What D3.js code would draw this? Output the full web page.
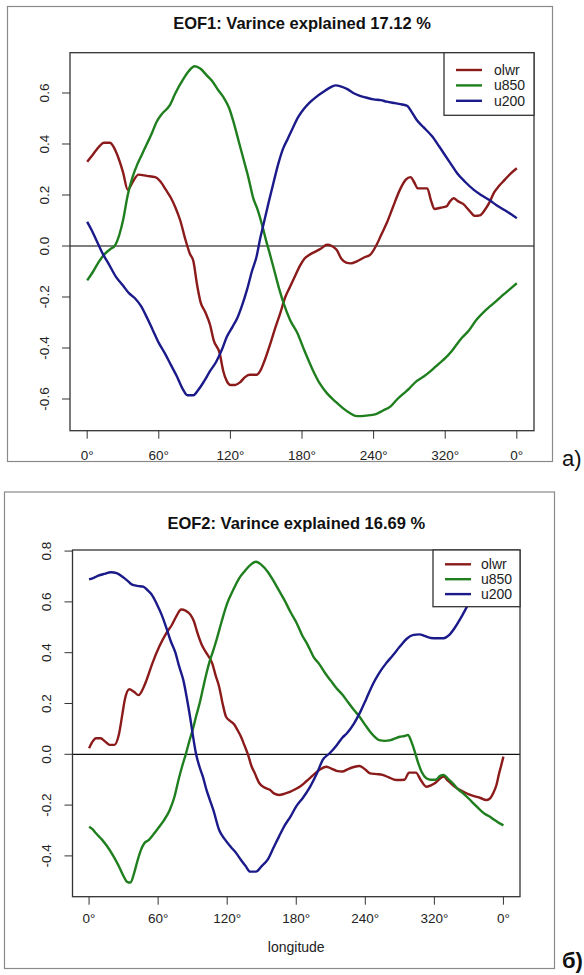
<!DOCTYPE html>
<html>
<head>
<meta charset="utf-8">
<script src="https://cdn.jsdelivr.net/npm/d3@7"></script>
<style>
  body { margin: 0; background: #fff; }
  svg text { font-family: "Liberation Sans", Arial, sans-serif; }
</style>
</head>
<body>
<svg id="chart" width="584" height="975"></svg>
<script>
// longitude axis (same for both panels)
const lonTicks = [0, 60, 120, 180, 240, 300, 360];
const lonTickLabels = ["0°", "60°", "120°", "180°", "240°", "320°", "0°"];

const seriesNames = ["olwr", "u850", "u200"];
const seriesColors = ["#8b1a1a", "#1f7f1f", "#1a1a8a"];

// EOF1, [longitude, value]
const eof1Ticks = [-0.6, -0.4, -0.2, 0, 0.2, 0.4, 0.6];
const eof1Olwr = [[0,0.33],[5,0.36],[10,0.39],[14,0.405],[19,0.405],[22,0.39],[25,0.36],[30,0.29],[34,0.22],[38,0.25],[43,0.28],[50,0.275],[57,0.27],[61,0.255],[66,0.22],[70,0.19],[74,0.15],[78,0.10],[82,0.03],[86,-0.03],[89,-0.06],[92,-0.15],[95,-0.22],[99,-0.26],[103,-0.31],[106,-0.37],[111,-0.42],[114,-0.49],[117,-0.53],[120,-0.545],[124,-0.545],[128,-0.535],[132,-0.515],[136,-0.505],[142,-0.505],[145,-0.49],[149,-0.445],[153,-0.39],[157,-0.33],[162,-0.26],[166,-0.20],[170,-0.16],[174,-0.12],[178,-0.08],[182,-0.05],[186,-0.035],[190,-0.025],[196,-0.01],[201,0.005],[205,0.0],[209,-0.015],[213,-0.05],[217,-0.065],[221,-0.068],[226,-0.06],[232,-0.045],[237,-0.035],[242,0.0],[247,0.05],[251,0.09],[256,0.15],[262,0.22],[267,0.26],[271,0.27],[274,0.25],[277,0.226],[281,0.226],[285,0.226],[288,0.18],[291,0.145],[296,0.15],[301,0.155],[304,0.175],[307,0.187],[311,0.175],[315,0.165],[320,0.14],[325,0.118],[329,0.12],[333,0.14],[337,0.17],[341,0.21],[345,0.235],[350,0.26],[355,0.285],[360,0.305]];
const eof1U850 = [[0,-0.135],[5,-0.10],[10,-0.06],[15,-0.03],[20,-0.01],[23,0.0],[27,0.045],[30,0.10],[34,0.2],[38,0.27],[42,0.32],[46,0.36],[50,0.40],[54,0.44],[58,0.485],[63,0.52],[69,0.55],[74,0.60],[80,0.65],[85,0.685],[90,0.705],[95,0.695],[100,0.67],[105,0.645],[110,0.61],[114,0.585],[119,0.54],[123,0.48],[127,0.41],[131,0.34],[135,0.27],[139,0.19],[143,0.14],[147,0.075],[150,0.02],[153,-0.03],[157,-0.10],[161,-0.17],[165,-0.23],[170,-0.29],[176,-0.34],[182,-0.41],[189,-0.486],[195,-0.54],[201,-0.578],[208,-0.61],[214,-0.635],[220,-0.655],[226,-0.667],[234,-0.665],[242,-0.659],[248,-0.645],[254,-0.63],[260,-0.60],[266,-0.575],[270,-0.558],[276,-0.53],[282,-0.512],[288,-0.49],[295,-0.46],[300,-0.44],[305,-0.415],[309,-0.39],[314,-0.36],[320,-0.33],[326,-0.29],[332,-0.26],[338,-0.235],[343,-0.215],[349,-0.19],[354,-0.17],[360,-0.146]];
const eof1U200 = [[0,0.095],[4,0.06],[8,0.02],[13,-0.03],[18,-0.07],[24,-0.12],[30,-0.155],[35,-0.185],[40,-0.205],[45,-0.235],[50,-0.28],[55,-0.33],[60,-0.38],[65,-0.42],[70,-0.465],[75,-0.51],[80,-0.56],[84,-0.585],[89,-0.585],[93,-0.565],[98,-0.53],[103,-0.49],[108,-0.455],[113,-0.405],[117,-0.356],[122,-0.315],[126,-0.28],[130,-0.23],[134,-0.17],[138,-0.1],[142,-0.04],[145,0.03],[148,0.09],[152,0.17],[156,0.246],[160,0.32],[164,0.38],[168,0.42],[172,0.46],[177,0.507],[182,0.54],[187,0.565],[192,0.585],[198,0.605],[203,0.62],[208,0.63],[213,0.625],[218,0.615],[223,0.6],[228,0.59],[233,0.583],[240,0.575],[246,0.572],[251,0.566],[258,0.56],[264,0.555],[268,0.55],[272,0.525],[276,0.495],[282,0.465],[289,0.43],[295,0.39],[300,0.355],[305,0.32],[310,0.285],[317,0.25],[324,0.22],[330,0.2],[337,0.18],[343,0.16],[350,0.14],[355,0.125],[360,0.109]];

// EOF2, [longitude, value]
const eof2Ticks = [-0.4, -0.2, 0, 0.2, 0.4, 0.6, 0.8];
const eof2Olwr = [[0,0.024],[3,0.05],[6,0.063],[10,0.063],[14,0.05],[18,0.037],[22,0.037],[26,0.08],[29,0.16],[31,0.214],[35,0.256],[39,0.246],[43,0.233],[47,0.26],[50,0.293],[55,0.358],[61,0.424],[67,0.476],[72,0.51],[76,0.545],[80,0.57],[84,0.565],[88,0.55],[91,0.525],[94,0.48],[98,0.43],[102,0.398],[107,0.358],[110,0.31],[113,0.266],[116,0.2],[119,0.148],[123,0.13],[126,0.118],[129,0.095],[132,0.069],[135,0.035],[138,0.0],[141,-0.045],[144,-0.075],[148,-0.114],[152,-0.13],[157,-0.14],[161,-0.155],[165,-0.16],[170,-0.155],[175,-0.147],[179,-0.138],[183,-0.128],[189,-0.105],[195,-0.081],[200,-0.062],[206,-0.049],[210,-0.055],[215,-0.065],[220,-0.068],[225,-0.058],[230,-0.05],[235,-0.046],[240,-0.06],[244,-0.075],[250,-0.078],[255,-0.081],[260,-0.09],[267,-0.101],[274,-0.1],[278,-0.072],[284,-0.072],[288,-0.1],[293,-0.128],[297,-0.122],[301,-0.112],[305,-0.095],[308,-0.088],[312,-0.105],[316,-0.121],[320,-0.135],[325,-0.147],[330,-0.158],[334,-0.164],[340,-0.172],[345,-0.18],[348,-0.175],[351,-0.154],[354,-0.12],[356,-0.08],[358,-0.045],[360,-0.009]];
const eof2U850 = [[0,-0.285],[3,-0.295],[6,-0.311],[11,-0.335],[16,-0.364],[21,-0.4],[26,-0.442],[30,-0.48],[33,-0.502],[36,-0.505],[39,-0.47],[42,-0.42],[45,-0.377],[48,-0.35],[52,-0.337],[56,-0.315],[61,-0.285],[65,-0.26],[70,-0.22],[74,-0.17],[78,-0.095],[81,-0.045],[84,0.0],[87,0.05],[90,0.096],[93,0.15],[96,0.2],[99,0.26],[102,0.319],[105,0.37],[108,0.41],[111,0.455],[115,0.52],[120,0.594],[125,0.645],[130,0.69],[135,0.72],[140,0.745],[145,0.758],[150,0.745],[155,0.72],[160,0.685],[165,0.645],[170,0.605],[175,0.56],[180,0.52],[185,0.47],[190,0.43],[195,0.384],[200,0.355],[205,0.32],[210,0.29],[215,0.26],[220,0.235],[225,0.205],[230,0.175],[235,0.148],[240,0.115],[244,0.09],[248,0.07],[252,0.056],[257,0.053],[262,0.056],[266,0.063],[270,0.069],[274,0.072],[277,0.076],[280,0.05],[283,0.01],[286,-0.035],[289,-0.07],[293,-0.094],[297,-0.1],[301,-0.1],[305,-0.085],[308,-0.081],[312,-0.097],[316,-0.114],[320,-0.135],[325,-0.154],[330,-0.175],[334,-0.193],[340,-0.22],[344,-0.235],[348,-0.245],[352,-0.258],[356,-0.27],[360,-0.28]];
const eof2U200 = [[0,0.689],[4,0.695],[8,0.703],[13,0.71],[19,0.717],[24,0.713],[29,0.699],[33,0.685],[37,0.669],[42,0.663],[47,0.66],[51,0.645],[55,0.625],[59,0.59],[63,0.55],[67,0.5],[71,0.445],[75,0.4],[78,0.35],[82,0.29],[85,0.22],[88,0.14],[90,0.08],[93,0.0],[96,-0.05],[99,-0.09],[102,-0.14],[105,-0.18],[108,-0.22],[113,-0.298],[118,-0.335],[123,-0.364],[128,-0.39],[132,-0.416],[136,-0.44],[140,-0.462],[145,-0.462],[150,-0.44],[155,-0.416],[160,-0.37],[165,-0.324],[170,-0.28],[175,-0.245],[180,-0.205],[186,-0.17],[192,-0.128],[198,-0.075],[203,-0.022],[209,0.004],[215,0.035],[220,0.065],[224,0.083],[230,0.12],[235,0.161],[241,0.22],[247,0.28],[252,0.32],[258,0.358],[264,0.39],[270,0.424],[276,0.455],[282,0.47],[287,0.472],[292,0.465],[297,0.458],[302,0.457],[308,0.457],[313,0.47],[318,0.5],[324,0.545],[330,0.594],[338,0.64],[346,0.68],[353,0.72],[360,0.76]];

const svg = d3.select("#chart");

function drawPanel(p) {
    const g = svg.append("g");

    // outer frame of the figure
    g.append("rect")
        .attr("x", p.frame[0] + 0.5).attr("y", p.frame[1] + 0.5)
        .attr("width", p.frame[2] - p.frame[0]).attr("height", p.frame[3] - p.frame[1])
        .attr("fill", "none").attr("stroke", "#8a8a8a").attr("stroke-width", 1.2);

    const x = d3.scaleLinear().domain([-14.4, 374.4]).range([p.left, p.right]);
    const y = d3.scaleLinear().domain(p.yDomain).range([p.bottom, p.top]);

    // title
    g.append("text")
        .attr("x", (p.left + p.right) / 2).attr("y", p.titleY)
        .attr("text-anchor", "middle").attr("dy", "0.35em")
        .style("font-size", "16.5px").style("font-weight", "bold").attr("fill", "#111")
        .text(p.title);

    // x axis
    const xa = g.append("g");
    xa.selectAll("line").data(lonTicks).enter().append("line")
        .attr("x1", d => x(d)).attr("x2", d => x(d))
        .attr("y1", p.bottom).attr("y2", p.bottom + 8)
        .attr("stroke", "#333").attr("stroke-width", 1);
    xa.selectAll("text").data(lonTicks).enter().append("text")
        .attr("x", d => x(d)).attr("y", p.bottom + p.xLabOff)
        .attr("text-anchor", "middle").attr("dy", "0.35em")
        .style("font-size", "13.5px").attr("fill", "#222")
        .text((d, i) => lonTickLabels[i]);

    // y axis
    const ya = g.append("g");
    ya.selectAll("line").data(p.yTicks).enter().append("line")
        .attr("x1", p.left - 8).attr("x2", p.left)
        .attr("y1", d => y(d)).attr("y2", d => y(d))
        .attr("stroke", "#333").attr("stroke-width", 1);
    ya.selectAll("text").data(p.yTicks).enter().append("text")
        .attr("transform", d => `translate(${p.left - 26},${y(d)}) rotate(-90)`)
        .attr("text-anchor", "middle").attr("dy", "0.35em")
        .style("font-size", "13.5px").attr("fill", "#222")
        .text(d => d.toFixed(1));

    // y label
    const clipId = "clip" + p.id;
    g.append("clipPath").attr("id", clipId).append("rect")
        .attr("x", p.frame[0] + 1.5).attr("y", p.frame[1]).attr("width", 80).attr("height", p.frame[3] - p.frame[1]);
    g.append("text")
        .attr("clip-path", `url(#${clipId})`)
        .attr("transform", `translate(${p.ylabX},${(p.top + p.bottom) / 2}) rotate(-90)`)
        .attr("text-anchor", "middle").attr("dy", "0.35em")
        .style("font-size", "14px").attr("fill", "#222")
        .text("EOF");

    if (p.xlab) {
        g.append("text")
            .attr("x", (p.left + p.right) / 2).attr("y", p.xlabY)
            .attr("text-anchor", "middle").attr("dy", "0.35em")
            .style("font-size", "14px").attr("fill", "#222")
            .text(p.xlab);
    }

    // zero line
    g.append("line")
        .attr("x1", p.left).attr("x2", p.right)
        .attr("y1", y(0)).attr("y2", y(0))
        .attr("stroke", p.zeroColor).attr("stroke-width", 1.3);

    // series
    const line = d3.line().x(d => x(d[0])).y(d => y(d[1])).curve(d3.curveMonotoneX);
    p.series.forEach((s, i) => {
        g.append("path")
            .datum(s)
            .attr("fill", "none")
            .attr("stroke", seriesColors[i])
            .attr("stroke-width", 2.4)
            .attr("stroke-linejoin", "round")
            .attr("d", line);
    });

    // plot box
    g.append("rect")
        .attr("x", p.left).attr("y", p.top)
        .attr("width", p.right - p.left).attr("height", p.bottom - p.top)
        .attr("fill", "none").attr("stroke", "#333").attr("stroke-width", 1.3);

    // legend
    const L = p.legend;
    const lg = g.append("g");
    lg.append("rect")
        .attr("x", L.x).attr("y", p.top)
        .attr("width", p.right - L.x).attr("height", L.h)
        .attr("fill", "#fff").attr("stroke", "#333").attr("stroke-width", 1.3);
    seriesNames.forEach((name, i) => {
        const yy = p.top + L.row0 + i * L.step;
        lg.append("line")
            .attr("x1", L.x + 12).attr("x2", L.x + 38)
            .attr("y1", yy).attr("y2", yy)
            .attr("stroke", seriesColors[i]).attr("stroke-width", 2.4);
        lg.append("text")
            .attr("x", L.x + L.textOff).attr("y", yy).attr("dy", "0.35em")
            .style("font-size", "14px").attr("fill", "#222")
            .text(name);
    });

    // panel mark
    g.append("text")
        .attr("x", 562).attr("y", p.markY)
        .style("font-size", "22px").style("font-weight", p.markBold ? "bold" : "normal")
        .attr("fill", "#111")
        .text(p.mark);
}

drawPanel({
    id: 1,
    frame: [7, 6, 552, 461],
    left: 70, right: 534, top: 52.7, bottom: 430.7,
    yDomain: [-0.7243, 0.758],
    yTicks: eof1Ticks,
    title: "EOF1: Varince explained 17.12 %",
    titleY: 23.5,
    xLabOff: 24.5,
    ylabX: 11,
    zeroColor: "#555",
    series: [eof1Olwr, eof1U850, eof1U200],
    legend: { x: 444, h: 62.6, row0: 17.3, step: 15.4, textOff: 50 },
    mark: "a)", markY: 466, markBold: false
});

drawPanel({
    id: 2,
    frame: [4, 491.5, 554, 968],
    left: 72.5, right: 520, top: 550, bottom: 896.7,
    yDomain: [-0.5606, 0.8043],
    yTicks: eof2Ticks,
    title: "EOF2: Varince explained 16.69 %",
    titleY: 523.3,
    xLabOff: 22,
    xlab: "longitude", xlabY: 946.7,
    ylabX: 15.5,
    zeroColor: "#111",
    series: [eof2Olwr, eof2U850, eof2U200],
    legend: { x: 433, h: 56.7, row0: 14.3, step: 14.9, textOff: 48 },
    mark: "б)", markY: 968, markBold: true
});
</script>
</body>
</html>
